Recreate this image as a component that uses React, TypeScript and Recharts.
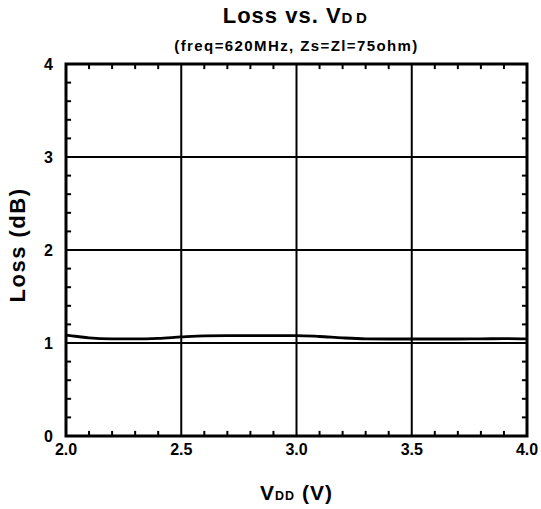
import React from 'react';
import { LineChart, Line, XAxis, YAxis, CartesianGrid, ReferenceLine, ReferenceArea } from 'recharts';

const vdd = [2.0, 2.05, 2.1, 2.2, 2.3, 2.4, 2.5, 2.6, 2.7, 2.8, 2.9, 3.0, 3.1, 3.2, 3.3, 3.4, 3.5, 3.6, 3.7, 3.8, 3.9, 4.0];
const loss = [1.085, 1.07, 1.055, 1.045, 1.044, 1.05, 1.065, 1.077, 1.08, 1.08, 1.08, 1.08, 1.07, 1.055, 1.045, 1.043, 1.043, 1.043, 1.043, 1.044, 1.048, 1.045];
const xMajorTicks = [2.0, 2.5, 3.0, 3.5, 4.0];
const xMinorTicks = [2.1, 2.2, 2.3, 2.4, 2.6, 2.7, 2.8, 2.9, 3.1, 3.2, 3.3, 3.4, 3.6, 3.7, 3.8, 3.9];
const yMajorTicks = [0, 1, 2, 3, 4];
const yMinorTicks = [0.2, 0.4, 0.6, 0.8, 1.2, 1.4, 1.6, 1.8, 2.2, 2.4, 2.6, 2.8, 3.2, 3.4, 3.6, 3.8];

const X_MIN = 2;
const X_MAX = 4;
const Y_MIN = 0;
const Y_MAX = 4;
// minor tick length expressed in the other axis' units (about 5 px)
const TICK_LEN_Y = 0.055;
const TICK_LEN_X = 0.022;

const data = vdd.map((v, i) => ({ v, loss: loss[i] }));

const FONT = '"Liberation Sans", Arial, Helvetica, sans-serif';
const tickStyle = { fontFamily: FONT, fontWeight: 'bold' as const, fontSize: 16, fill: '#000' };

export default function App() {
  return (
    <div style={{ position: 'absolute', left: 0, top: 0, width: 541, height: 509, background: '#fff', fontFamily: FONT }}>
      <div style={{ position: 'absolute', left: 66, top: 5, width: 461, textAlign: 'center', fontSize: 22, lineHeight: '22px', fontWeight: 'bold', letterSpacing: 1 }}>
        Loss vs. V<span style={{ fontSize: 15, letterSpacing: 3.5 }}>DD</span>
      </div>
      <div style={{ position: 'absolute', left: 66, top: 38, width: 461, textAlign: 'center', fontSize: 15, lineHeight: '15px', fontWeight: 'bold', letterSpacing: 1.4 }}>
        (freq=620MHz, Zs=Zl=75ohm)
      </div>
      <div style={{ position: 'absolute', left: -82, top: 233.5, width: 200, height: 22, textAlign: 'center', fontSize: 22, lineHeight: '22px', fontWeight: 'bold', letterSpacing: 1.5, transform: 'rotate(-90deg)' }}>
        Loss (dB)
      </div>
      <div style={{ position: 'absolute', left: 66, top: 482, width: 461, textAlign: 'center', fontSize: 21, lineHeight: '21px', fontWeight: 'bold', letterSpacing: 1 }}>
        V<span style={{ fontSize: 12.5, letterSpacing: 1 }}>DD</span> (V)
      </div>
      <LineChart width={541} height={509} data={data} margin={{ top: 64, right: 14, left: 0, bottom: 0 }}>
        <CartesianGrid stroke="#000" strokeWidth={2} />
        <XAxis
          dataKey="v"
          type="number"
          domain={[X_MIN, X_MAX]}
          ticks={xMajorTicks}
          allowDataOverflow
          height={73}
          tickLine={false}
          tickSize={6}
          tickMargin={2}
          axisLine={false}
          tick={tickStyle}
          tickFormatter={(t: number) => t.toFixed(1)}
          interval={0}
        />
        <YAxis
          dataKey="loss"
          type="number"
          domain={[Y_MIN, Y_MAX]}
          ticks={yMajorTicks}
          allowDataOverflow
          width={66}
          tickLine={false}
          tickSize={8}
          tickMargin={5}
          axisLine={false}
          tick={tickStyle}
          interval={0}
        />
        {xMinorTicks.map((t) => (
          <ReferenceLine key={`xb${t}`} segment={[{ x: t, y: Y_MIN }, { x: t, y: Y_MIN + TICK_LEN_Y }]} stroke="#000" strokeWidth={2} />
        ))}
        {xMinorTicks.map((t) => (
          <ReferenceLine key={`xt${t}`} segment={[{ x: t, y: Y_MAX }, { x: t, y: Y_MAX - TICK_LEN_Y }]} stroke="#000" strokeWidth={2} />
        ))}
        {yMinorTicks.map((t) => (
          <ReferenceLine key={`yl${t}`} segment={[{ x: X_MIN, y: t }, { x: X_MIN + TICK_LEN_X, y: t }]} stroke="#000" strokeWidth={2} />
        ))}
        {yMinorTicks.map((t) => (
          <ReferenceLine key={`yr${t}`} segment={[{ x: X_MAX, y: t }, { x: X_MAX - TICK_LEN_X, y: t }]} stroke="#000" strokeWidth={2} />
        ))}
        <ReferenceArea x1={X_MIN} x2={X_MAX} y1={Y_MIN} y2={Y_MAX} fill="none" fillOpacity={0} stroke="#000" strokeWidth={3} strokeOpacity={1} />
        <Line
          type="monotone"
          dataKey="loss"
          stroke="#000"
          strokeWidth={2.8}
          dot={false}
          isAnimationActive={false}
        />
      </LineChart>
    </div>
  );
}
